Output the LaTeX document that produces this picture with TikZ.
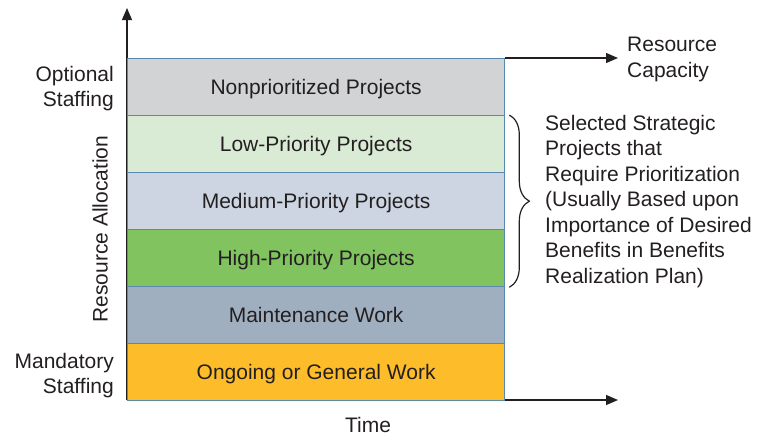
\documentclass[tikz,border=0pt]{standalone}
\usepackage{fontspec}
\setmainfont{Liberation Sans}
\usetikzlibrary{decorations.pathreplacing,arrows.meta}
\definecolor{cnon}{HTML}{D1D3D4}
\definecolor{clow}{HTML}{D9EBD4}
\definecolor{cmed}{HTML}{CCD5E1}
\definecolor{chigh}{HTML}{80C35F}
\definecolor{cmaint}{HTML}{A0AFC0}
\definecolor{congo}{HTML}{FDBC2A}
\definecolor{cborder}{HTML}{5A89B0}
\definecolor{ctext}{HTML}{231F20}
\begin{document}
\begin{tikzpicture}[x=1pt,y=-1pt,
  txt/.style={font=\fontsize{21}{25.5}\selectfont, text=ctext, inner sep=0pt},
  band/.style={txt, draw=cborder, line width=1.3pt, minimum width=377pt, minimum height=57pt, anchor=north west, text height=15pt, text depth=0pt},
  axis/.style={draw=ctext, line width=1.2pt, -{Triangle[length=12pt,width=10pt]}}]
\useasboundingbox (0,0) rectangle (758,437);
\coordinate (o) at (127,400);
\coordinate (ytop) at (127,8);
\coordinate (xend) at (618,400);
\coordinate (capend) at (618,58);
\draw[axis] (o) -- (ytop);
\draw[axis] (o) -- (xend);
\node[band, fill=cnon] (non) at (127,58) {Nonprioritized Projects};
\node[band, fill=clow] (low) at (127,115) {Low-Priority Projects};
\node[band, fill=cmed] (med) at (127,172) {Medium-Priority Projects};
\node[band, fill=chigh] (high) at (127,229) {High-Priority Projects};
\node[band, fill=cmaint] (maint) at (127,286) {Maintenance Work};
\node[band, fill=congo] (ongo) at (127,343) {Ongoing or General Work};
\draw[axis] (non.north east) -- (capend);
\node[txt, align=right, anchor=east] (opt) at (114,88.5) {Optional\\Staffing};
\node[txt, align=right, anchor=east] (mand) at (114,375.5) {Mandatory\\Staffing};
\node[txt, rotate=90] (alloc) at (100,229) {Resource Allocation};
\node[txt] (time) at (368,425) {Time};
\node[txt, align=left, anchor=west] (cap) at (627,59.5) {Resource\\Capacity};
\draw[ctext, line width=1.2pt, decorate, decoration={brace, amplitude=20pt}]
  ([xshift=4pt]low.north east) -- ([xshift=4pt]high.south east);
\node[txt, align=left, anchor=north west] (sel) at (545,115) {Selected Strategic\\Projects that\\Require Prioritization\\(Usually Based upon\\Importance of Desired\\Benefits in Benefits\\Realization Plan)};
\end{tikzpicture}
\end{document}
